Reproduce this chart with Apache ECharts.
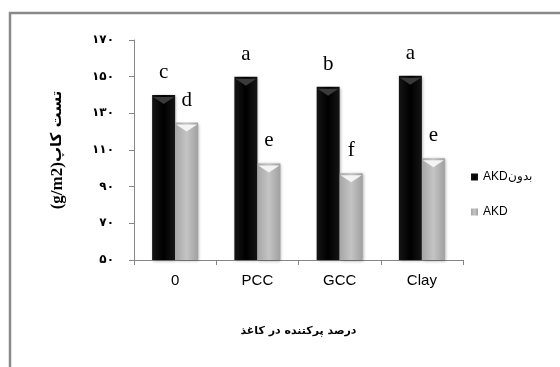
<!DOCTYPE html>
<html><head><meta charset="utf-8">
<script src="https://cdn.jsdelivr.net/npm/echarts@6/dist/echarts.min.js"></script>
<style>html,body{margin:0;padding:0;background:#fff}#c{width:560px;height:367px}</style>
</head><body><div id="c"></div>
<script>
const categories = ['0', 'PCC', 'GCC', 'Clay'];
const seriesNames = ['AKDبدون', 'AKD'];
const withoutAKD = [140, 150, 144.5, 150.5];
const withAKD = [125, 102.7, 97.3, 105.5];
const lettersWithout = ['c', 'a', 'b', 'a'];
const lettersWith = ['d', 'e', 'f', 'e'];
const yTickLabels = {50:'۵۰',70:'۷۰',90:'۹۰',110:'۱۱۰',130:'۱۳۰',150:'۱۵۰',170:'۱۷۰'};
const yNameUnit = '(g/m2)';
const yNameText = 'تست کاپ';
const xName = 'درصد پرکتنده در کاغذ';

const chart = echarts.init(document.getElementById('c'), null, {renderer:'canvas'});
const blackFill = new echarts.graphic.LinearGradient(0,0,1,0,[
  {offset:0,color:'#151515'},{offset:0.5,color:'#000'},{offset:1,color:'#151515'}]);
const grayFill = new echarts.graphic.LinearGradient(0,0,1,0,[
  {offset:0,color:'#a6a6a6'},{offset:0.5,color:'#c4c4c4'},{offset:1,color:'#a0a0a0'}]);
const labelStyle = {show:true, position:'top', distance:12, fontFamily:'Liberation Serif', fontSize:21, color:'#000'};
const chevron = 'path://M0,0 L20,0 L10,6 Z';
chart.setOption({
  animation:false,
  graphic:[{type:'rect', shape:{x:10, y:13, width:560, height:370}, style:{fill:'none', stroke:'#8a8a8a', lineWidth:2.5}}],
  grid:{left:134, right:97, top:40, bottom:107},
  legend:{orient:'vertical', left:466, top:166, itemWidth:7, itemHeight:7, itemGap:23,
    textStyle:{fontFamily:'Liberation Sans', fontSize:12, color:'#000'}, icon:'rect',
    data:seriesNames},
  xAxis:{type:'category', data:categories,
    axisLine:{lineStyle:{color:'#868686'}}, axisTick:{show:true, length:5, lineStyle:{color:'#868686'}},
    axisLabel:{fontFamily:'Liberation Sans', fontSize:15, color:'#000', margin:13},
    name:xName, nameLocation:'middle', nameGap:66,
    nameTextStyle:{fontFamily:'DejaVu Sans', fontWeight:'bold', fontSize:11, color:'#000'}},
  yAxis:{type:'value', min:50, max:170, interval:20,
    axisLine:{show:true, lineStyle:{color:'#868686'}}, axisTick:{show:true, length:5, lineStyle:{color:'#868686'}},
    splitLine:{show:false},
    axisLabel:{fontFamily:'DejaVu Sans', fontWeight:'bold', fontSize:12, color:'#000', margin:20, formatter:v=>yTickLabels[v]||''},
    name:'{u|'+yNameUnit+'}{t|'+yNameText+'}', nameLocation:'middle', nameGap:68, nameRotate:90,
    nameTextStyle:{color:'#000', rich:{
      u:{fontFamily:'Liberation Serif', fontWeight:'bold', fontSize:17, color:'#000'},
      t:{fontFamily:'DejaVu Sans', fontWeight:'bold', fontSize:15, color:'#000'}}}},
  series:[
    {name:seriesNames[0], type:'bar', data:withoutAKD, barWidth:23, barGap:'0%',
     itemStyle:{color:blackFill, shadowColor:'rgba(0,0,0,0.35)', shadowBlur:3, shadowOffsetX:1, shadowOffsetY:1},
     label:Object.assign({}, labelStyle, {formatter:p=>lettersWithout[p.dataIndex]})},
    {name:seriesNames[1], type:'bar', data:withAKD, barWidth:23,
     itemStyle:{color:grayFill, shadowColor:'rgba(0,0,0,0.35)', shadowBlur:3, shadowOffsetX:1, shadowOffsetY:1},
     label:Object.assign({}, labelStyle, {formatter:p=>lettersWith[p.dataIndex]})},
    {name:'chev1', type:'pictorialBar', data:withoutAKD, symbol:chevron, symbolSize:[21,7],
     symbolPosition:'end', symbolOffset:[-11.5, 2], itemStyle:{color:'#3a3a3a'}, z:3, silent:true},
    {name:'chev2', type:'pictorialBar', data:withAKD, symbol:chevron, symbolSize:[21,7],
     symbolPosition:'end', symbolOffset:[11.5, 2], itemStyle:{color:'#f4f4f4'}, z:3, silent:true}
  ]
});
</script></body></html>
